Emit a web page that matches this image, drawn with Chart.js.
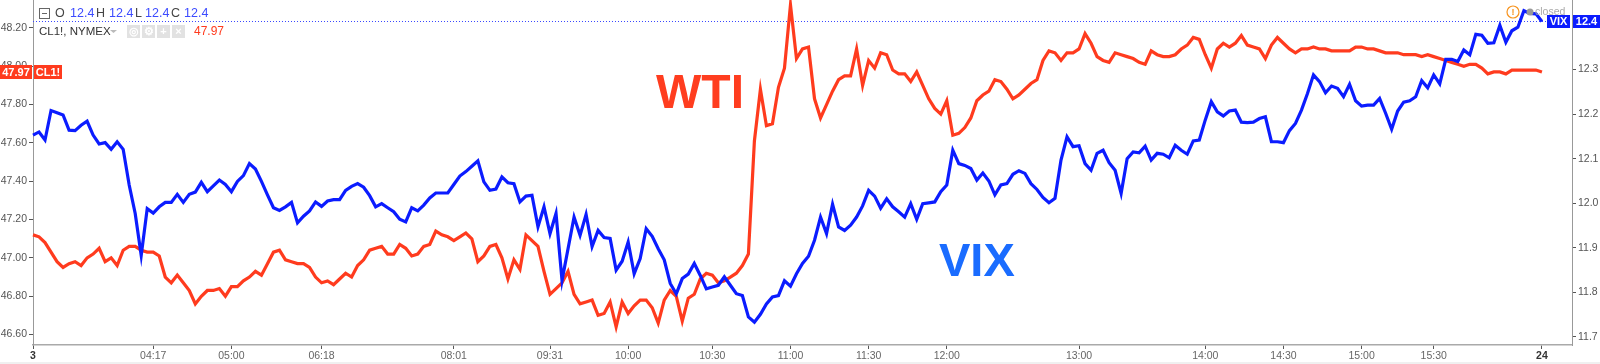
<!DOCTYPE html>
<html>
<head>
<meta charset="utf-8">
<script src="https://cdn.jsdelivr.net/npm/chart.js@4.4.1/dist/chart.umd.min.js"></script>
<style>
  html, body { margin: 0; padding: 0; background: #fff; }
  canvas { display: block; }
</style>
</head>
<body>
<canvas id="chart" width="1600" height="364"></canvas>
<script>
// time slots on the x axis (TradingView bar index), ticks only where a label is set
const slotCount = 257;
const tickIdx = [0, 20, 33, 48, 70, 86, 99, 113, 126, 139, 152, 174, 195, 208, 221, 233, 251];
const tickText = ['3', '04:17', '05:00', '06:18', '08:01', '09:31', '10:00', '10:30', '11:00', '11:30', '12:00', '13:00', '14:00', '14:30', '15:00', '15:30', '24'];

// left axis (WTI, CL1!) and right axis (VIX)
const wtiTicks = [46.6, 46.8, 47.0, 47.2, 47.4, 47.6, 47.8, 48.0, 48.2];
const vixTicks = [11.7, 11.8, 11.9, 12.0, 12.1, 12.2, 12.3, 12.4];

const wti = [
  47.12,47.11,47.08,47.03,46.98,46.95,46.97,46.98,46.96,47.00,47.02,47.05,46.98,47.00,46.96,47.04,47.06,47.06,47.04,47.03,47.03,47.01,46.90,46.87,46.91,46.87,46.83,46.76,46.80,46.83,46.83,46.84,46.80,46.85,46.85,46.88,46.90,46.93,46.91,46.97,47.03,47.04,46.99,
  46.98,46.97,46.97,46.95,46.90,46.87,46.88,46.86,46.89,46.92,46.90,46.96,46.99,47.04,47.05,47.06,47.02,47.02,47.07,47.05,47.01,47.02,47.06,47.07,47.14,47.12,47.11,47.09,47.11,47.13,47.10,46.98,47.01,47.06,47.07,47.00,46.89,46.99,46.94,47.12,47.09,47.06,46.93,
  46.81,46.84,46.87,46.93,46.81,46.76,46.77,46.78,46.70,46.71,46.77,46.64,46.77,46.71,46.75,46.78,46.78,46.74,46.66,46.78,46.83,46.80,46.67,46.79,46.81,46.89,46.92,46.91,46.87,46.88,46.90,46.92,46.96,47.02,47.61,47.88,47.69,47.70,47.89,47.99,48.32,48.04,
  48.09,48.10,47.83,47.73,47.80,47.87,47.93,47.95,47.95,48.09,47.90,48.03,47.99,48.07,48.06,47.98,47.96,47.96,47.92,47.97,47.90,47.83,47.78,47.75,47.82,47.64,47.65,47.68,47.73,47.82,47.85,47.87,47.93,47.92,47.88,47.83,47.85,47.88,47.91,47.93,48.03,48.08,48.07,
  48.03,48.07,48.07,48.09,48.17,48.12,48.05,48.03,48.02,48.07,48.06,48.05,48.04,48.02,48.01,48.08,48.06,48.05,48.05,48.06,48.09,48.11,48.15,48.14,48.06,47.99,48.09,48.12,48.10,48.12,48.16,48.11,48.10,48.09,48.04,48.11,48.15,48.12,48.09,48.07,48.09,48.09,
  48.10,48.09,48.09,48.08,48.08,48.08,48.08,48.10,48.10,48.09,48.09,48.08,48.07,48.07,48.07,48.06,48.06,48.06,48.05,48.06,48.05,48.04,48.03,48.02,48.01,48.00,48.01,48.01,47.99,47.96,47.97,47.97,47.96,47.98,47.98,47.98,47.98,47.98,47.97
];

const vix = [
  12.153,12.160,12.142,12.208,12.203,12.198,12.164,12.163,12.175,12.184,12.153,12.133,12.136,12.121,12.138,12.121,12.041,11.977,11.883,11.988,11.978,11.992,12.002,12.002,12.020,12.002,12.020,12.025,12.047,12.026,12.039,12.052,12.042,12.026,12.049,12.062,12.089,12.077,12.049,12.019,11.990,11.984,11.992,
  12.002,11.956,11.971,11.983,12.003,11.993,12.005,12.008,12.008,12.029,12.038,12.044,12.036,12.017,11.992,11.999,11.990,11.981,11.964,11.958,11.990,11.983,11.996,12.012,12.023,12.023,12.023,12.042,12.061,12.071,12.083,12.095,12.048,12.029,12.032,12.059,12.046,12.044,12.003,12.016,12.018,11.947,11.992,
  11.932,11.977,11.827,11.898,11.969,11.928,11.975,11.903,11.939,11.923,11.921,11.850,11.870,11.913,11.842,11.876,11.943,11.926,11.898,11.873,11.820,11.797,11.831,11.841,11.865,11.838,11.808,11.812,11.816,11.835,11.816,11.797,11.793,11.745,11.733,11.751,11.774,11.790,11.793,11.826,11.814,11.842,
  11.865,11.881,11.917,11.969,11.932,11.998,11.947,11.939,11.951,11.969,11.994,12.029,12.016,11.989,12.010,11.992,11.981,11.969,11.999,11.964,11.999,12.001,12.003,12.026,12.041,12.119,12.089,12.085,12.078,12.052,12.068,12.050,12.019,12.041,12.044,12.065,12.073,12.067,12.044,12.031,12.013,12.001,12.011,
  12.097,12.149,12.127,12.129,12.089,12.074,12.112,12.119,12.091,12.074,12.022,12.100,12.115,12.113,12.128,12.097,12.112,12.110,12.102,12.130,12.119,12.110,12.140,12.142,12.187,12.228,12.205,12.196,12.207,12.209,12.182,12.181,12.182,12.190,12.194,12.138,12.138,12.136,12.163,12.179,12.209,12.246,
  12.288,12.273,12.248,12.263,12.258,12.239,12.267,12.230,12.218,12.220,12.220,12.235,12.202,12.166,12.207,12.227,12.230,12.239,12.275,12.259,12.288,12.268,12.323,12.323,12.318,12.344,12.333,12.379,12.377,12.359,12.360,12.399,12.361,12.387,12.395,12.432,12.426,12.425,12.408
];

const RED = '#ff3b1e';
const BLUE = '#0b1cff';
const FONT = '"Liberation Sans", Arial, Helvetica, sans-serif';

const labels = Array.from({ length: slotCount }, (_, i) => {
    const k = tickIdx.indexOf(i);
    return k >= 0 ? tickText[k] : '';
});

// scale boxes keep fixed sizes so the plot area matches the screenshot
const fixSize = (prop, size) => (s) => {
    s[prop] = size;
    s.paddingTop = 0; s.paddingBottom = 0; s.paddingLeft = 0; s.paddingRight = 0;
};

const lastWti = wti[wti.length - 1];
const lastVix = vix[vix.length - 1];

function box(ctx, x, y, w, h, color, text, font) {
    ctx.fillStyle = color;
    ctx.fillRect(x, y, w, h);
    ctx.fillStyle = '#fff';
    ctx.font = font;
    ctx.textAlign = 'center';
    ctx.textBaseline = 'middle';
    ctx.fillText(text, x + w / 2, y + h / 2 + 0.5);
}

const overlay = {
    id: 'overlay',
    beforeDatasetsDraw(chart) {
        const ctx = chart.ctx;
        const y = Math.round(chart.scales.yR.getPixelForValue(lastVix)) + 0.5;
        ctx.save();
        ctx.strokeStyle = '#3a48ff';
        ctx.lineWidth = 1;
        ctx.setLineDash([1, 2]);
        ctx.beginPath();
        ctx.moveTo(chart.chartArea.left, y);
        ctx.lineTo(1547, y);
        ctx.stroke();
        ctx.restore();
    },
    afterDraw(chart) {
        const ctx = chart.ctx;
        ctx.save();

        // legend header
        ctx.strokeStyle = '#666';
        ctx.lineWidth = 1;
        ctx.strokeRect(39.5, 8.5, 10, 10);
        ctx.beginPath(); ctx.moveTo(42, 13.5); ctx.lineTo(47, 13.5); ctx.stroke();
        ctx.font = '12.5px ' + FONT;
        ctx.textBaseline = 'middle';
        ctx.textAlign = 'left';
        const head = [['O', 55, '#444'], ['12.4', 70, '#3c4bff'], ['H', 96, '#444'], ['12.4', 109, '#3c4bff'],
                      ['L', 135, '#444'], ['12.4', 145, '#3c4bff'], ['C', 171, '#444'], ['12.4', 184, '#3c4bff']];
        head.forEach(([t, x, c]) => { ctx.fillStyle = c; ctx.fillText(t, x, 14); });

        ctx.font = '11.5px ' + FONT;
        ctx.fillStyle = '#333';
        ctx.fillText('CL1!, NYMEX', 39, 31.5);
        ctx.fillStyle = '#bbb';
        ctx.beginPath(); ctx.moveTo(110, 30); ctx.lineTo(117, 30); ctx.lineTo(113.5, 33); ctx.closePath(); ctx.fill();
        const glyphs = ['◎', '⚙', '+', '×'];
        [127, 142, 157, 172].forEach((x, i) => {
            ctx.fillStyle = '#e2e2e2';
            ctx.fillRect(x, 25, 13, 13);
            ctx.fillStyle = '#fff';
            ctx.font = 'bold 11px ' + FONT;
            ctx.textAlign = 'center';
            ctx.fillText(glyphs[i], x + 6.5, 31.5);
        });
        ctx.textAlign = 'left';
        ctx.font = '12px ' + FONT;
        ctx.fillStyle = RED;
        ctx.fillText(lastWti.toFixed(2), 194, 31.5);

        // price tags
        const yw = Math.round(chart.scales.yL.getPixelForValue(lastWti));
        box(ctx, 0, yw - 7, 32, 14, RED, lastWti.toFixed(2), 'bold 11px ' + FONT);
        box(ctx, 34, yw - 7, 28, 14, RED, 'CL1!', 'bold 11px ' + FONT);
        const yv = Math.round(chart.scales.yR.getPixelForValue(lastVix));
        box(ctx, 1547, yv - 6, 23, 13, BLUE, 'VIX', 'bold 11px ' + FONT);
        box(ctx, 1573, yv - 6, 27, 13, BLUE, lastVix.toFixed(1), 'bold 11px ' + FONT);

        // market status
        ctx.strokeStyle = '#f7931e';
        ctx.lineWidth = 1.2;
        ctx.beginPath(); ctx.arc(1513, 12, 6, 0, Math.PI * 2); ctx.stroke();
        ctx.fillStyle = '#f7931e';
        ctx.font = 'bold 9px ' + FONT;
        ctx.textAlign = 'center';
        ctx.fillText('!', 1513, 12.5);
        ctx.fillStyle = '#999';
        ctx.beginPath(); ctx.arc(1530, 12, 3.5, 0, Math.PI * 2); ctx.fill();
        ctx.fillStyle = '#aaa';
        ctx.font = '10.5px ' + FONT;
        ctx.textAlign = 'left';
        ctx.fillText('closed', 1535, 12);

        // big annotations
        ctx.textBaseline = 'alphabetic';
        ctx.font = 'bold 48px ' + FONT;
        ctx.fillStyle = '#ff3d1f';
        ctx.fillText('WTI', 656, 108);
        ctx.font = 'bold 47px ' + FONT;
        ctx.fillStyle = '#1a6cff';
        ctx.fillText('VIX', 939, 276);

        ctx.fillStyle = '#f0f0f0';
        ctx.fillRect(0, 362, 1600, 2);
        ctx.restore();
    }
};

new Chart(document.getElementById('chart'), {
    type: 'line',
    data: {
        labels: labels,
        datasets: [
            { label: 'VIX', data: vix, yAxisID: 'yR', borderColor: BLUE, borderWidth: 3.2, pointRadius: 0, tension: 0, order: 0 },
            { label: 'CL1!', data: wti, yAxisID: 'yL', borderColor: RED, borderWidth: 3.2, pointRadius: 0, tension: 0, order: 1 }
        ]
    },
    options: {
        responsive: false,
        animation: false,
        devicePixelRatio: 1,
        layout: { padding: 0 },
        plugins: { legend: { display: false }, tooltip: { enabled: false } },
        scales: {
            x: {
                type: 'category',
                offset: false,
                afterBuildTicks: (s) => { s.ticks = s.ticks.filter(t => labels[t.value] !== ''); },
                afterFit: fixSize('height', 19),
                grid: { drawOnChartArea: false, drawTicks: true, tickLength: 4, color: '#555', offset: false },
                border: { color: '#aaa', width: 1.5 },
                ticks: {
                    autoSkip: false, maxRotation: 0, padding: 1,
                    color: (c) => (c.tick && /^\d+$/.test(c.tick.label) ? '#333' : '#666'),
                    font: (c) => ({ family: FONT, size: 10.5, weight: c.tick && /^\d+$/.test(c.tick.label) ? 'bold' : 'normal' })
                }
            },
            yL: {
                position: 'left',
                min: 46.5455, max: 48.3455,
                afterBuildTicks: (s) => { s.ticks = wtiTicks.map(v => ({ value: v })); },
                afterFit: fixSize('width', 33),
                grid: { drawOnChartArea: false, tickLength: 4, color: '#555' },
                border: { color: '#999', width: 1 },
                ticks: { padding: 2, color: '#555', font: { family: FONT, size: 10.5 }, callback: (v) => v.toFixed(2) }
            },
            yR: {
                position: 'right',
                min: 11.682, max: 12.456,
                afterBuildTicks: (s) => { s.ticks = vixTicks.map(v => ({ value: v })); },
                afterFit: fixSize('width', 28),
                grid: { drawOnChartArea: false, tickLength: 4, color: '#555' },
                border: { color: '#999', width: 1 },
                ticks: { padding: 2, color: '#555', font: { family: FONT, size: 10.5 }, callback: (v) => v.toFixed(1) }
            }
        }
    },
    plugins: [overlay]
});
</script>
</body>
</html>
